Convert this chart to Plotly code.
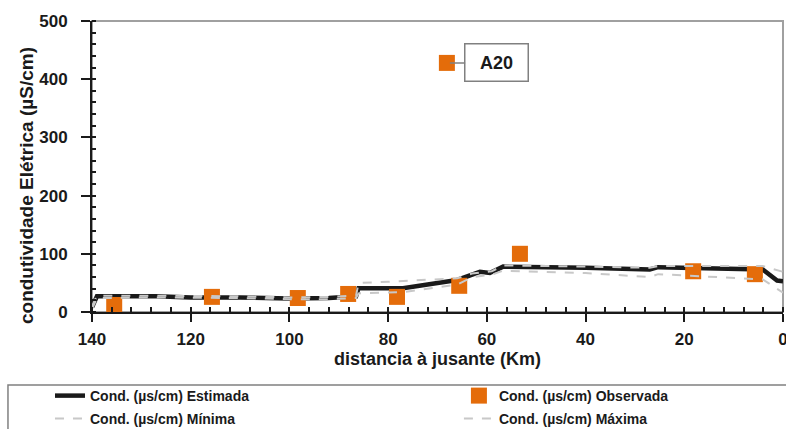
import plotly.graph_objects as go

# Estimated conductivity
est_dist = [140, 139, 127, 120, 110, 100, 92, 87, 86.5, 86, 77, 66, 63, 61.4, 59.4, 56.7, 40, 27, 25.3, 4.1, 1.2, 0]
est_val = [8, 27, 27, 25, 25, 23, 24, 27, 27, 41, 41, 55, 64, 69, 67, 78, 76, 73, 77, 73, 54, 53]

# Maximum
max_dist = [140, 139, 127, 110, 100, 92, 87, 86.5, 86, 80, 66, 63, 59, 56.7, 40, 27, 25.3, 4.1, 0]
max_val = [10, 28, 28, 27, 25, 26, 28, 28, 50, 52, 58, 66, 70, 80, 78, 76, 79, 79, 69]

# Minimum
min_dist = [140, 139, 127, 110, 100, 92, 87, 86.5, 86, 77, 66, 63, 59, 56.7, 40, 27, 25.3, 4.1, 0]
min_val = [5, 24, 25, 24, 22, 22, 24, 24, 32, 34, 47, 60, 64, 71, 67, 60, 65, 56, 33]

# Observed
obs_dist = [135.5, 115.7, 98.3, 88.1, 78.2, 68.1, 65.6, 53.3, 18.2, 5.7]
obs_val = [12, 26, 24, 31, 26, 428, 45, 100, 70, 65]

callout_label = "A20"
callout_dist = 68.1
callout_val = 428

x_ticks = [140, 120, 100, 80, 60, 40, 20, 0]
y_ticks = [0, 100, 200, 300, 400, 500]

FONT = "Liberation Sans, Arial, sans-serif"
ORANGE = "#E46C0A"
INK = "#1a1a1a"
GRAY_DASH = "#c8c8c8"

fig = go.Figure()
fig.add_trace(go.Scatter(x=est_dist, y=est_val, mode="lines", name="Cond. (µs/cm) Estimada",
                         line=dict(color=INK, width=4.5), legend="legend"))
fig.add_trace(go.Scatter(x=obs_dist, y=obs_val, mode="markers", name="Cond. (µs/cm) Observada",
                         marker=dict(symbol="square", size=16, color=ORANGE, line=dict(width=0)),
                         legend="legend2"))
fig.add_trace(go.Scatter(x=min_dist, y=min_val, mode="lines", name="Cond. (µs/cm) Mínima",
                         line=dict(color=GRAY_DASH, width=2, dash="dash"), legend="legend3"))
fig.add_trace(go.Scatter(x=max_dist, y=max_val, mode="lines", name="Cond. (µs/cm) Máxima",
                         line=dict(color=GRAY_DASH, width=2, dash="dash"), legend="legend4"))

# plot frame (top/right gray)
fig.add_shape(type="rect", xref="paper", yref="paper", x0=0, x1=1, y0=0, y1=1,
              line=dict(color="#a0a0a0", width=2), layer="below")
# legend frame
fig.add_shape(type="rect", xref="paper", yref="paper", x0=-0.1216, x1=1.01, y0=-0.2509, y1=-0.5,
              line=dict(color="#808080", width=1.5), layer="below")

fig.add_annotation(x=callout_dist, y=callout_val, text="<b>" + callout_label + "</b>",
                   showarrow=True, arrowhead=0, arrowwidth=1.5, arrowcolor="#808080",
                   ax=50, ay=0, font=dict(family=FONT, size=18, color=INK),
                   bgcolor="white", bordercolor="#808080", borderwidth=1.5,
                   width=60, height=34, standoff=3)

fig.add_annotation(xref="paper", yref="paper", x=-0.094, y=0.433, showarrow=False,
                   xanchor="center", yanchor="middle",
                   text="<b>condutividade Elétrica (µS/cm)</b>", textangle=-90,
                   font=dict(family=FONT, size=19, color=INK))

leg_font = dict(family=FONT, size=14, color=INK, weight="bold")
def leg(x, y):
    return dict(x=x, y=y, xanchor="left", yanchor="middle", orientation="v",
                bgcolor="rgba(0,0,0,0)", borderwidth=0, font=leg_font, itemwidth=30)

fig.update_layout(
    width=786, height=429,
    margin=dict(l=92, r=3, t=21, b=117, autoexpand=False),
    paper_bgcolor="white", plot_bgcolor="white",
    font=dict(family=FONT, color=INK, size=17),
    showlegend=True,
    legend=leg(-0.0608, -0.2887),
    legend2=leg(0.531, -0.2887),
    legend3=leg(-0.0608, -0.3677),
    legend4=leg(0.531, -0.3677),
    xaxis=dict(range=[140, 0], tickvals=x_ticks, ticklabeloverflow="allow",
               showgrid=False, zeroline=False, showline=True, linecolor=INK, linewidth=2,
               ticks="outside", ticklen=8, tickwidth=2, tickcolor=INK, ticklabelstandoff=3,
               tickfont=dict(family=FONT, size=17, weight="bold"),
               minor=dict(dtick=4, ticks="inside", ticklen=5, tickwidth=1.5, tickcolor=INK),
               title=dict(text="distancia à jusante (Km)", standoff=0,
                          font=dict(family=FONT, size=18, weight="bold"))),
    yaxis=dict(range=[0, 500], tickvals=y_ticks,
               showgrid=False, zeroline=False, showline=True, linecolor=INK, linewidth=2,
               ticks="outside", ticklen=9, tickwidth=2, tickcolor=INK, ticklabelstandoff=10,
               tickfont=dict(family=FONT, size=17, weight="bold"),
               minor=dict(dtick=20, ticks="inside", ticklen=4, tickwidth=1.5, tickcolor=INK)),
)

fig.write_html("out.html", config={"displayModeBar": False},
               post_script="document.body.style.margin='0';document.body.style.overflow='hidden';")
